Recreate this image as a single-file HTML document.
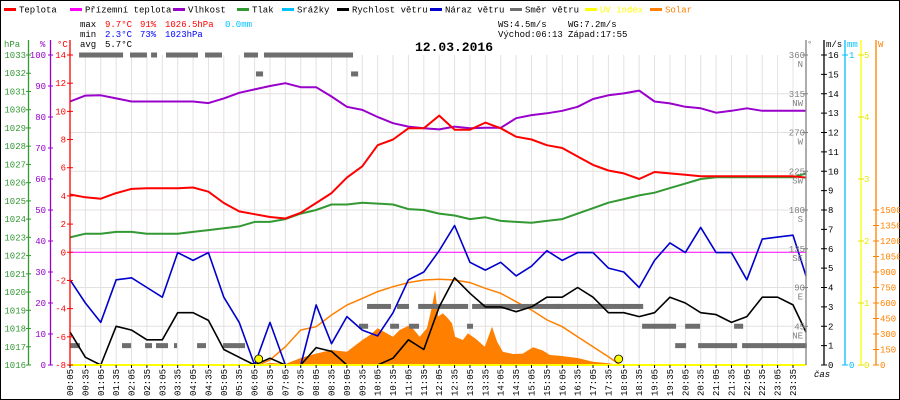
<!DOCTYPE html>
<html><head><meta charset="utf-8"><style>
html,body{margin:0;padding:0;background:#fff}
svg{display:block}
text{font-family:"Liberation Mono",monospace;font-size:9px}
</style></head><body>
<svg id="chart" width="900" height="400" viewBox="0 0 900 400" xmlns="http://www.w3.org/2000/svg">
<rect x="0.5" y="0.5" width="899" height="399" fill="#fff" stroke="#000"/>
<g id="grid"></g>
<g id="marks"></g>
<g id="axes"></g>
<g id="legend"></g>
<g>
<text x="80" y="27" fill="#000">max</text>
<text x="105" y="27" fill="#f00">9.7°C</text>
<text x="140" y="27" fill="#f00">91%</text>
<text x="165" y="27" fill="#f00">1026.5hPa</text>
<text x="225" y="27" fill="#00bfff">0.0mm</text>
<text x="80" y="37" fill="#000">min</text>
<text x="105" y="37" fill="#00f">2.3°C</text>
<text x="140" y="37" fill="#00f">73%</text>
<text x="165" y="37" fill="#00f">1023hPa</text>
<text x="80" y="47" fill="#000">avg</text>
<text x="105" y="47" fill="#000">5.7°C</text>
<text x="498" y="27" fill="#000">WS:4.5m/s</text>
<text x="568" y="27" fill="#000">WG:7.2m/s</text>
<text x="498" y="37" fill="#000">Východ:06:13</text>
<text x="568" y="37" fill="#000">Západ:17:55</text>
<text x="415" y="51" fill="#000" style="font-size:13px;font-weight:bold">12.03.2016</text>
</g>
</svg>
<script>
// half-hour samples, t = 5 + 30*i minutes
const temp=[4.1,3.9,3.8,4.2,4.5,4.55,4.55,4.55,4.6,4.3,3.5,2.9,2.7,2.5,2.4,2.8,3.5,4.2,5.3,6.1,7.6,8.0,8.8,8.8,9.7,8.7,8.7,9.2,8.8,8.2,8.0,7.6,7.4,6.8,6.2,5.8,5.6,5.2,5.7,5.6,5.5,5.4,5.4,5.4,5.4,5.4,5.4,5.4,5.3];
const hum=[85,86.9,87,86,85,85,85,85,85,84.5,86,87.8,88.9,90,90.9,89.6,89.6,86.6,83.3,82.3,80,78,76.9,76.4,76,76.9,76.4,76.5,76.5,79.6,80.6,81.2,82,83.3,85.8,87,87.6,88.5,85,84.4,83.3,82.8,81.4,82,82.8,82,82,82,82];
const press=[1023.0,1023.2,1023.2,1023.3,1023.3,1023.2,1023.2,1023.2,1023.3,1023.4,1023.5,1023.6,1023.85,1023.85,1024.0,1024.3,1024.5,1024.8,1024.8,1024.9,1024.85,1024.8,1024.55,1024.5,1024.3,1024.2,1024.0,1024.1,1023.9,1023.85,1023.8,1023.9,1024.0,1024.3,1024.6,1024.9,1025.1,1025.3,1025.45,1025.7,1025.95,1026.2,1026.3,1026.3,1026.3,1026.3,1026.3,1026.3,1026.5];
const gust=[4.4,3.2,2.2,4.4,4.5,4.0,3.5,5.8,5.4,5.8,3.5,2.2,0,2.2,0,0,3.1,1.1,2.5,1.8,1.5,2.7,4.4,4.8,5.9,7.2,5.3,4.9,5.3,4.6,5.1,5.9,5.4,5.8,5.8,5.0,4.8,4.0,5.4,6.3,5.8,7.1,5.8,5.8,4.4,6.5,6.6,6.7,4.6];
const wind=[1.7,0.4,0,2.0,1.8,1.3,1.3,2.7,2.7,2.3,0.8,0.4,0,0.35,0,0,0.9,0.7,0,0,0,0.35,1.3,0.8,3.0,4.5,3.7,3.0,3.0,2.75,3.0,3.5,3.5,4.0,3.5,2.7,2.7,2.5,2.7,3.5,3.2,2.7,2.6,2.2,2.5,3.5,3.5,3.1,1.7];
const apparent=[0,0];
// wind direction segments (half-hour index) and degrees
const dirStart=[0.59,3.9,5.27,6.24,8.78,11.31,12.61,12.09,18.27,0,3.38,4.88,5.59,6.76,8.26,9.95,19.31,21.26,22.63,26.14,31.53,18.79,20.81,22.04,25.81,37.19,39.99,43.17,39.34,40.83,43.69];
const dirEnd=[3.45,5.0,5.66,8.32,9.88,12.22,18.4,12.55,18.73,0.65,3.97,5.33,6.37,6.96,8.84,11.38,20.87,22.04,25.88,31.86,37.26,19.38,21.39,22.69,26.2,39.4,40.96,43.76,40.05,43.37,47.9];
const dirDeg=[360,360,360,360,360,360,360,338,338,22.5,22.5,22.5,22.5,22.5,22.5,22.5,68,68,68,68,68,45,45,45,45,45,45,45,22.5,22.5,22.5];
// solar measured (clock minutes, W/m2)
const solarT=[373,395,425,455,485,515,545,575,590,605,635,648,668,687,701,711,717,723,732,742,750,756,771,781,795,814,828,838,849,869,888,908,927,941,960,995,1025,1055,1078];
const solarW=[0,20,10,68,110,145,129,242,290,355,274,339,387,274,355,565,726,468,500,452,403,274,242,306,258,177,371,226,129,106,110,171,140,97,90,68,32,16,0];
// theoretical solar
const theoT=[373,395,425,455,485,515,545,575,605,635,665,695,725,755,785,815,845,875,905,935,965,995,1025,1055,1078];
const theoW=[0,48,177,339,371,484,581,645,710,758,797,823,829,823,797,742,694,613,532,436,371,274,177,80,0];
const sunT=[373,1075];
// axis ticks
const hpaTicks=[1016,1017,1018,1019,1020,1021,1022,1023,1024,1025,1026,1027,1028,1029,1030,1031,1032,1033];
const humTicks=[0,10,20,30,40,50,60,70,80,90,100];
const tempTicks=[-8,-6,-4,-2,0,2,4,6,8,10,12,14];
const dirTicks=[45,90,135,180,225,270,315,360];
const dirNames=["NE","E","SE","S","SW","W","NW","N"];
const msTicks=[0,1,2,3,4,5,6,7,8,9,10,11,12,13,14,15,16];
const uvTicks=[0,1,2,3,4,5];
const wTicks=[0,150,300,450,600,750,900,1050,1200,1350,1500];
const timeLabels=[];for(let i=0;i<48;i++){const m=5+30*i;timeLabels.push(String(Math.floor(m/60)).padStart(2,'0')+':'+String(m%60).padStart(2,'0'));}

const NS='http://www.w3.org/2000/svg';
const X0=70,X1=806,Y0=365,Y1=55,H=310;
const xT=t=>X0+(t-5)*(15.383/30);
const xI=i=>X0+i*15.383;
const yTemp=v=>Y0-(v+8)*H/22;
const yHum=v=>Y0-v*H/100;
const yP=v=>Y0-(v-1016)*H/17;
const yMs=v=>Y0-v*H/16;
const yDir=v=>Y0-v*H/360;
const yW=v=>Y0-v*H/3000;
const yUV=v=>Y0-v*H/5;
function mk(tag,attrs,parent){const e=document.createElementNS(NS,tag);for(const k in attrs)e.setAttribute(k,attrs[k]);parent.appendChild(e);return e;}
const grid=document.getElementById('grid'),marks=document.getElementById('marks'),axes=document.getElementById('axes'),legend=document.getElementById('legend');

for(let i=0;i<48;i++){const g=mk('line',{x1:xI(i),x2:xI(i),y1:Y1,y2:Y0,stroke:'#e4e0e0','stroke-width':1},grid);

}
for(let k=1;k<8;k++){const y=Y1+k*H/8;const g=mk('line',{x1:X0,x2:X1,y1:y,y2:y,stroke:'#e4e0e0','stroke-width':1},grid);

}

function line(arr,yf,color,w,name){const pts=arr.map((v,i)=>Math.min(xI(i),X1)+','+yf(v).toFixed(1)).join(' ');
const p=mk('polyline',{points:pts,fill:'none',stroke:color,'stroke-width':w,'stroke-linejoin':'round'},marks);

}

// solar area
{let d='M'+xT(solarT[0])+','+Y0;solarT.forEach((t,k)=>{d+=' L'+xT(t).toFixed(1)+','+yW(solarW[k]).toFixed(1);});d+=' L'+xT(solarT[solarT.length-1])+','+Y0+' Z';
const a=mk('path',{d:d,fill:'#ff8000',stroke:'none'},marks);

}
{const pts=theoT.map((t,k)=>xT(t).toFixed(1)+','+yW(theoW[k]).toFixed(1)).join(' ');
const p=mk('polyline',{points:pts,fill:'none',stroke:'#ff8000','stroke-width':1.5},marks);

}
// direction segments
dirDeg.forEach((d,k)=>{const r=mk('rect',{x:xI(dirStart[k]),y:yDir(d)-2.5,width:Math.max(2,Math.min(xI(dirEnd[k]),X1+2)-xI(dirStart[k])),height:5,fill:'#6e6e6e'},marks);

});
// apparent temp
{const l=mk('line',{x1:X0,x2:X1,y1:yTemp(apparent[0]),y2:yTemp(apparent[1]),stroke:'#ff00ff','stroke-width':1},marks);

}
line(press,yP,'#339933',2,'pressure-line');
line(hum,yHum,'#9900cc',2,'humidity-line');
line(temp,yTemp,'#ff0000',2,'temperature-line');
line(gust,yMs,'#0000cc',1.6,'wind-gust-line');
line(wind,yMs,'#000000',1.6,'wind-speed-line');
// uv baseline
{const l=mk('line',{x1:X0,x2:X1,y1:yUV(0),y2:yUV(0),stroke:'#ffff00','stroke-width':2},marks);

}
sunT.forEach(t=>{const c=mk('circle',{cx:xT(t),cy:359,r:4,fill:'#ffff00',stroke:'#000','stroke-width':0.8},marks);

});

// axes
function vaxis(x,color,name){const l=mk('line',{x1:x,x2:x,y1:40,y2:Y0,stroke:color,'stroke-width':1.3},axes);

}
vaxis(28.5,'#339933','pressure-axis');vaxis(50.5,'#9900cc','humidity-axis');vaxis(70,'#ff0000','temperature-axis');
vaxis(806,'#808080','direction-axis');vaxis(824,'#000','wind-speed-axis');vaxis(845,'#00bfff','rain-axis');vaxis(861,'#ffff00','uv-axis');vaxis(876,'#ff8000','solar-axis');
function tick(x1,x2,y,color,label,lx,anchor,name){mk('line',{x1:x1,x2:x2,y1:y,y2:y,stroke:color},axes);
const t=mk('text',{x:lx,y:y+3,fill:color,'text-anchor':anchor},axes);t.textContent=label;

}
hpaTicks.forEach(v=>tick(26,31,yP(v),'#339933',v,26,'end','pressure-tick-label'));
humTicks.forEach(v=>tick(48,53,yHum(v),'#9900cc',v,46,'end','humidity-tick-label'));
tempTicks.forEach(v=>tick(67,73,yTemp(v),'#ff0000',v,66,'end','temperature-tick-label'));
dirTicks.forEach((v,k)=>{tick(803,808,yDir(v),'#808080',v,805,'end','direction-tick-label');
const t=mk('text',{x:803,y:yDir(v)+12,fill:'#808080','text-anchor':'end'},axes);t.textContent=dirNames[k];

});
msTicks.forEach(v=>tick(821,827,yMs(v),'#000',v,828,'start','wind-speed-tick-label'));
[0,1].forEach(v=>tick(842,848,Y0-v*H,'#00bfff',v,849,'start','rain-tick-label'));
uvTicks.forEach(v=>tick(858,864,yUV(v),'#e6e600',v,864,'start','uv-tick-label'));
wTicks.forEach(v=>tick(873,879,yW(v),'#ff8000',v,880,'start','solar-tick-label'));
[['hPa',4,'#339933'],['%',40,'#9900cc'],['°C',57,'#ff0000'],['°',807,'#808080'],['m/s',826,'#000'],['mm',847,'#00bfff'],['W',878,'#ff8000']].forEach(a=>{const t=mk('text',{x:a[1],y:47,fill:a[2]},axes);t.textContent=a[0];

});
timeLabels.forEach((s,i)=>{const x=xI(i);mk('line',{x1:x,x2:x,y1:Y0,y2:Y0+3,stroke:'#000'},axes);
const t=mk('text',{x:0,y:0,fill:'#000',transform:'translate('+(x+3)+',396) rotate(-90)'},axes);t.textContent=s;

});
{const t=mk('text',{x:814,y:377,fill:'#000','font-style':'italic'},axes);t.textContent='čas';

}

// legend
const legNames=['Teplota','Přízemní teplota','Vlhkost','Tlak','Srážky','Rychlost větru','Náraz větru','Směr větru','UV index','Solar'];
const legColors=['#ff0000','#ff00ff','#9900cc','#339933','#00bfff','#000000','#0000cc','#6e6e6e','#ffff00','#ff8000'];
const legX=[4,70,173,237,282,337,430,510,585,650];
legNames.forEach((n,k)=>{const g=mk('g',{},legend);


mk('rect',{x:legX[k],y:8,width:12,height:3,fill:legColors[k]},g);
const t=mk('text',{x:legX[k]+15,y:12.5,fill:k>=8?legColors[k]:'#000'},g);t.textContent=n;});
</script>
</body></html>
